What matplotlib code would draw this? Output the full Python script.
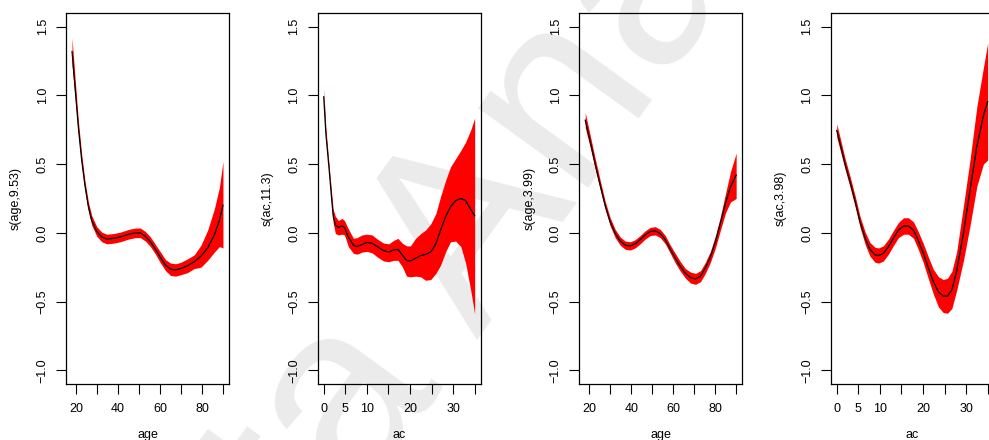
import math

import matplotlib
matplotlib.use("Agg")
import matplotlib.pyplot as plt

# --------------------------------
# DATA - smooth terms
# --------------------------------
age_a = [18, 19.4, 21, 22.6, 24.2, 25.8, 27.4, 29.8, 32.2, 34.6, 37.8, 41, 45, 48.2, 50.6,
         53, 55.4, 57.8, 60.2, 62.6, 65, 67.4, 69.8, 73, 76.3, 79.5, 82.7, 85.9, 88.3, 90]
fit_a = [1.32, 1.065, 0.77, 0.53, 0.34, 0.19, 0.09, 0.01, -0.03, -0.045, -0.04, -0.03, -0.01, 0.0, 0.0,
         -0.025, -0.065, -0.12, -0.18, -0.235, -0.265, -0.27, -0.26, -0.24, -0.21, -0.17, -0.11, -0.015, 0.09, 0.20]
upr_a = [1.42, 1.135, 0.82, 0.57, 0.375, 0.225, 0.125, 0.045, 0.005, -0.01, -0.005, 0.005, 0.025, 0.035, 0.035,
         0.01, -0.03, -0.085, -0.14, -0.195, -0.22, -0.225, -0.215, -0.19, -0.16, -0.09, 0.02, 0.175, 0.33, 0.52]
lwr_a = [1.22, 0.995, 0.72, 0.49, 0.305, 0.155, 0.055, -0.025, -0.065, -0.08, -0.075, -0.065, -0.045, -0.035, -0.035,
         -0.06, -0.1, -0.155, -0.22, -0.275, -0.31, -0.315, -0.305, -0.29, -0.26, -0.25, -0.2, -0.14, -0.10, -0.11]

ac_b = [0, 0.5, 1.2, 1.8, 2.2, 2.7, 3.4, 4.2, 4.8, 5.7, 6.9, 7.7, 8.9, 10, 11.2, 12.4, 13.9, 15.1,
        16.2, 17.2, 18.2, 19.2, 20.1, 21.3, 22.5, 23.6, 24.8, 26, 27.1, 28.3, 29.4, 30.6, 31.8, 32.9, 34.1, 35]
fit_b = [0.99, 0.72, 0.48, 0.26, 0.12, 0.057, 0.04, 0.05, 0.04, -0.03, -0.09, -0.1, -0.085, -0.07, -0.075, -0.1, -0.13, -0.14,
         -0.125, -0.12, -0.16, -0.2, -0.205, -0.185, -0.165, -0.157, -0.14, -0.08, 0.02, 0.12, 0.19, 0.235, 0.25, 0.235, 0.17, 0.125]
upr_b = [1.045, 0.76, 0.51, 0.30, 0.17, 0.12, 0.09, 0.105, 0.09, 0.03, -0.04, -0.035, -0.015, -0.01, -0.015, -0.045, -0.075, -0.08,
         -0.055, -0.04, -0.075, -0.095, -0.095, -0.04, -0.005, 0.02, 0.065, 0.14, 0.265, 0.385, 0.48, 0.54, 0.6, 0.66, 0.75, 0.835]
lwr_b = [0.93, 0.68, 0.45, 0.22, 0.07, -0.005, -0.015, -0.01, -0.015, -0.1, -0.15, -0.155, -0.14, -0.135, -0.145, -0.175, -0.205, -0.21,
         -0.2, -0.2, -0.245, -0.315, -0.32, -0.315, -0.32, -0.345, -0.34, -0.295, -0.235, -0.135, -0.065, -0.06, -0.1, -0.22, -0.42, -0.59]

age_c = [18, 20.3, 22.7, 25.1, 27.5, 29.9, 32.3, 34.7, 37.1, 39.5, 41.8, 44.2, 46.6, 49, 51.4, 53.8,
         56.2, 58.6, 61, 63.4, 65.8, 68.2, 70.6, 73, 75.3, 77.7, 80.1, 82.5, 84.9, 87.3, 90]
fit_c = [0.82, 0.67, 0.505, 0.35, 0.2, 0.08, -0.005, -0.06, -0.09, -0.095, -0.08, -0.05, -0.015, 0.01, 0.015, -0.005,
         -0.05, -0.12, -0.185, -0.245, -0.295, -0.325, -0.335, -0.315, -0.255, -0.175, -0.065, 0.07, 0.215, 0.335, 0.42]
upr_c = [0.875, 0.715, 0.545, 0.385, 0.23, 0.11, 0.025, -0.03, -0.06, -0.065, -0.05, -0.02, 0.015, 0.04, 0.045, 0.025,
         -0.02, -0.09, -0.15, -0.21, -0.26, -0.285, -0.295, -0.275, -0.215, -0.135, -0.02, 0.12, 0.285, 0.445, 0.58]
lwr_c = [0.765, 0.625, 0.465, 0.315, 0.17, 0.05, -0.035, -0.09, -0.12, -0.125, -0.11, -0.08, -0.045, -0.02, -0.015, -0.035,
         -0.08, -0.15, -0.22, -0.28, -0.33, -0.365, -0.375, -0.355, -0.295, -0.215, -0.11, 0.02, 0.145, 0.225, 0.25]

ac_d = [0, 0.77, 1.9, 3.1, 4.3, 5.4, 6.6, 7.7, 8.9, 9.7, 10.8, 12, 13.1, 14.3, 15.5, 16.6, 17.8, 18.9,
        20.1, 21.3, 22.4, 23.6, 24.7, 25.7, 26.7, 27.8, 29.4, 30.9, 32.5, 34.0, 35]
fit_d = [0.745, 0.65, 0.505, 0.37, 0.225, 0.08, -0.04, -0.12, -0.16, -0.165, -0.15, -0.1, -0.04, 0.02, 0.05, 0.05, 0.02, -0.055,
         -0.15, -0.26, -0.355, -0.43, -0.46, -0.46, -0.415, -0.28, 0.0, 0.31, 0.63, 0.85, 0.955]
upr_d = [0.795, 0.695, 0.545, 0.41, 0.265, 0.12, 0.005, -0.07, -0.105, -0.11, -0.095, -0.045, 0.015, 0.075, 0.11, 0.11, 0.08, 0.01,
         -0.08, -0.18, -0.265, -0.32, -0.34, -0.33, -0.28, -0.14, 0.2, 0.53, 0.92, 1.2, 1.38]
lwr_d = [0.695, 0.605, 0.465, 0.33, 0.185, 0.04, -0.085, -0.17, -0.215, -0.22, -0.205, -0.155, -0.095, -0.035, -0.01, -0.01, -0.04, -0.12,
         -0.22, -0.34, -0.445, -0.54, -0.58, -0.585, -0.55, -0.42, -0.2, 0.05, 0.34, 0.5, 0.53]

x_names = ["age", "ac", "age", "ac"]
y_names = ["s(age,9.53)", "s(ac,11.3)", "s(age,3.99)", "s(ac,3.98)"]

age_ticks = [20, 30, 40, 50, 60, 70, 80, 90]
age_labels = ["20", "", "40", "", "60", "", "80", ""]
ac_ticks = [0, 5, 10, 15, 20, 25, 30, 35]
ac_labels = ["0", "5", "10", "", "20", "", "30", ""]
y_ticks = [-1.0, -0.5, 0.0, 0.5, 1.0, 1.5]

WATERMARK = "Data Analysis"

# --------------------------------
# STYLE
# --------------------------------
plt.rcParams["font.family"] = ["Liberation Sans", "DejaVu Sans"]
FONT_SIZE = 9
W, H = 989, 440
PANEL_LEFT = [66, 317.7, 579.2, 830.7]   # pixel left edge of each box
PANEL_W = 163
PANEL_TOP = 13
PANEL_BOTTOM = 384

WM_SIZE = 185
WM_ANGLE = 54
WM_FOOT = (478, 340)    # pixel spot of the left foot of the "A"
WM_COLOUR = "#ebebeb"

fig = plt.figure(figsize=(W / 100, H / 100), dpi=100)
renderer = fig.canvas.get_renderer()

# --------------------------------
# WATERMARK (behind the panels)
# --------------------------------
split = WATERMARK.index("A")
probe_a = fig.text(0, 0, WATERMARK[:split + 1], fontsize=WM_SIZE)
probe_b = fig.text(0, 0, "A", fontsize=WM_SIZE)
lead = probe_a.get_window_extent(renderer).width - probe_b.get_window_extent(renderer).width
probe_a.remove()
probe_b.remove()

theta = math.radians(WM_ANGLE)
x0 = WM_FOOT[0] - lead * math.cos(theta)
y0 = (H - WM_FOOT[1]) - lead * math.sin(theta)
fig.text(x0 / W, y0 / H, WATERMARK, fontsize=WM_SIZE, color=WM_COLOUR,
         rotation=WM_ANGLE, rotation_mode="anchor", ha="left", va="baseline", zorder=-1)

# --------------------------------
# PANELS
# --------------------------------
panels = [
    (age_a, fit_a, upr_a, lwr_a, (15.12, 92.88), age_ticks, age_labels),
    (ac_b, fit_b, upr_b, lwr_b, (-1.4, 36.4), ac_ticks, ac_labels),
    (age_c, fit_c, upr_c, lwr_c, (15.12, 92.88), age_ticks, age_labels),
    (ac_d, fit_d, upr_d, lwr_d, (-1.4, 36.4), ac_ticks, ac_labels),
]

for i, (x, fit, upr, lwr, xlim, xt, xtl) in enumerate(panels):
    ax = fig.add_axes([PANEL_LEFT[i] / W, (H - PANEL_BOTTOM) / H,
                       PANEL_W / W, (PANEL_BOTTOM - PANEL_TOP) / H])
    ax.patch.set_alpha(0)

    ax.fill_between(x, lwr, upr, color="#ff0000", lw=0)
    ax.plot(x, fit, color="black", lw=0.9)

    ax.set_xlim(*xlim)
    ax.set_ylim(-1.1, 1.6)
    ax.set_xticks(xt)
    ax.set_xticklabels(xtl)
    ax.set_yticks(y_ticks)
    ax.set_yticklabels([f"{v:.1f}".replace("-", "\u2212") for v in y_ticks])

    ax.tick_params(direction="out", length=7.5, width=0.8, colors="black",
                   labelsize=FONT_SIZE, pad=6)
    ax.tick_params(axis="y", pad=5)
    for lab in ax.get_yticklabels():
        lab.set_rotation(90)
        lab.set_va("center")
        lab.set_ha("right")

    for sp in ax.spines.values():
        sp.set_linewidth(0.9)

    ax.set_xlabel(x_names[i], fontsize=FONT_SIZE)
    ax.xaxis.set_label_coords(0.5, -0.12)
    ax.set_ylabel(y_names[i], fontsize=FONT_SIZE)
    ax.yaxis.set_label_coords(-0.27, 0.5)

fig.savefig("out.png", dpi=100)
